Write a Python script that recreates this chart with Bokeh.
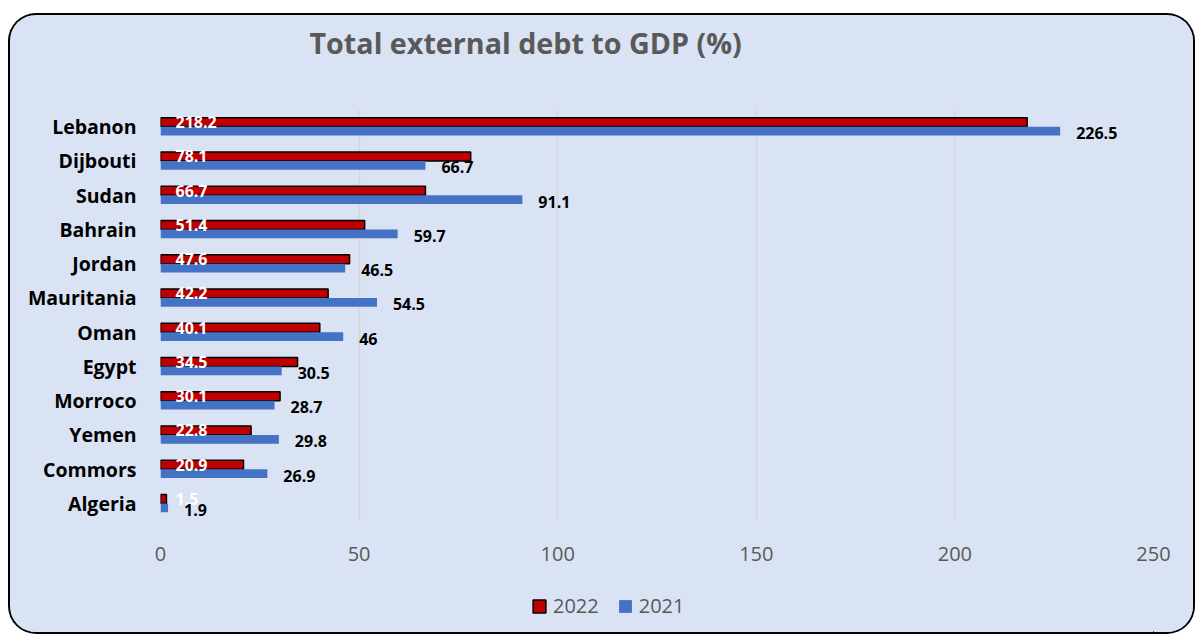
from bokeh.plotting import figure
from bokeh.layouts import column
from bokeh.models import (ColumnDataSource, FactorRange, Range1d, Legend, LegendItem,
                          Title, SingleIntervalTicker)
from bokeh.transform import dodge
from bokeh.core.properties import value
from bokeh.embed import file_html
from bokeh.resources import INLINE

# ---- data ----
countries = ["Lebanon", "Dijbouti", "Sudan", "Bahrain", "Jordan", "Mauritania",
             "Oman", "Egypt", "Morroco", "Yemen", "Commors", "Algeria"]
debt_2022 = [218.2, 78.1, 66.7, 51.4, 47.6, 42.2, 40.1, 34.5, 30.1, 22.8, 20.9, 1.5]
debt_2021 = [226.5, 66.7, 91.1, 59.7, 46.5, 54.5, 46, 30.5, 28.7, 29.8, 26.9, 1.9]
series_names = ["2022", "2021"]
title_text = "Total external debt to GDP (%)"
x_tick_interval = 50
x_max = 250

# ---- style ----
BG = "#DAE3F3"
RED = "#C00000"
BLUE = "#4472C4"
GRAY = "#595959"
FONT = "Open Sans"

src = ColumnDataSource(dict(
    country=countries,
    v22=debt_2022,
    v21=debt_2021,
    zero=[0] * len(countries),
    l22=["%g" % v for v in debt_2022],
    l21=["%g" % v for v in debt_2021],
))

p = figure(
    width=1183, height=565,
    y_range=FactorRange(factors=list(reversed(countries))),
    x_range=Range1d(0, x_max),
    output_backend="svg", toolbar_location=None,
    min_border_left=150, min_border_right=40,
    min_border_top=94, min_border_bottom=60,
    background_fill_color=BG, border_fill_color=BG,
    outline_line_color=None,
)

y22 = dodge("country", 0.13, range=p.y_range)
y21 = dodge("country", -0.13, range=p.y_range)

bar22 = dict(fill_color=RED, line_color="black", line_width=1.5)
bar21 = dict(fill_color=BLUE, line_color=None)

r22 = p.hbar(y=y22, left="zero", right="v22", height=0.26, source=src, **bar22)
r21 = p.hbar(y=y21, left="zero", right="v21", height=0.26, source=src, **bar21)

p.text(x="zero", y=y22, text="l22", source=src, x_offset=15,
       text_font=value(FONT), text_font_style="bold", text_font_size="16px",
       text_color="white", text_baseline="middle", text_align="left")
p.text(x="v21", y=y21, text="l21", source=src, x_offset=16, y_offset=2,
       text_font=value(FONT), text_font_style="bold", text_font_size="16px",
       text_color="black", text_baseline="middle", text_align="left")

# axes
p.xaxis.ticker = SingleIntervalTicker(interval=x_tick_interval)
p.xaxis.axis_line_color = None
p.xaxis.major_tick_line_color = None
p.xaxis.minor_tick_line_color = None
p.xaxis.major_tick_out = 0
p.xaxis.minor_tick_out = 0
p.xaxis.major_label_standoff = 26
p.xaxis.major_label_text_font = FONT
p.xaxis.major_label_text_font_size = "20px"
p.xaxis.major_label_text_color = GRAY

p.yaxis.axis_line_color = None
p.yaxis.major_tick_line_color = None
p.yaxis.major_tick_out = 0
p.yaxis.major_label_standoff = 24
p.yaxis.major_label_text_font = FONT
p.yaxis.major_label_text_font_size = "19.5px"
p.yaxis.major_label_text_font_style = "bold"
p.yaxis.major_label_text_color = "black"

p.xgrid.grid_line_color = "#D6D6D6"
p.xgrid.grid_line_width = 1.5
p.ygrid.grid_line_color = None

# spacer between frame and title, then the title itself
p.add_layout(Title(text=" ", text_font_size="1px", standoff=39), "above")
p.add_layout(Title(text=title_text, align="left", offset=149,
                   vertical_align="middle",
                   text_font=FONT, text_font_size="28.7px", text_font_style="bold",
                   text_color=GRAY), "above")

# ---- legend strip (same style as the chart) ----
# its proxy bars use the same data but sit outside this strip's visible ranges
lf = figure(
    width=1183, height=52, output_backend="svg", toolbar_location=None,
    x_range=Range1d(-2, -1), y_range=Range1d(5, 6),
    x_axis_location=None, y_axis_location=None,
    min_border=0, min_border_left=0, min_border_right=0,
    min_border_top=0, min_border_bottom=0,
    background_fill_color=BG, border_fill_color=BG, outline_line_color=None,
)
lf.xgrid.visible = False
lf.ygrid.visible = False
k22 = lf.hbar(y="zero", left="zero", right="v22", height=0.26, source=src, **bar22)
k21 = lf.hbar(y="zero", left="zero", right="v21", height=0.26, source=src, **bar21)
legend = Legend(
    items=[LegendItem(label=series_names[0], renderers=[k22]),
           LegendItem(label=series_names[1], renderers=[k21])],
    location=(371, 13), orientation="horizontal",
    background_fill_alpha=0, border_line_color=None,
    padding=0, margin=0, glyph_width=16, glyph_height=16,
    label_standoff=6, spacing=18,
    label_text_font=FONT, label_text_font_size="20px", label_text_color=GRAY,
)
lf.add_layout(legend)

page = column(p, lf, spacing=0,
              styles={"margin-left": "10px", "margin-top": "15px",
                      "border-radius": "26px", "overflow": "hidden",
                      "background-color": BG,
                      "box-shadow": "0 0 0 2px #000000"})

open("out.html", "w").write(file_html(page, INLINE))
